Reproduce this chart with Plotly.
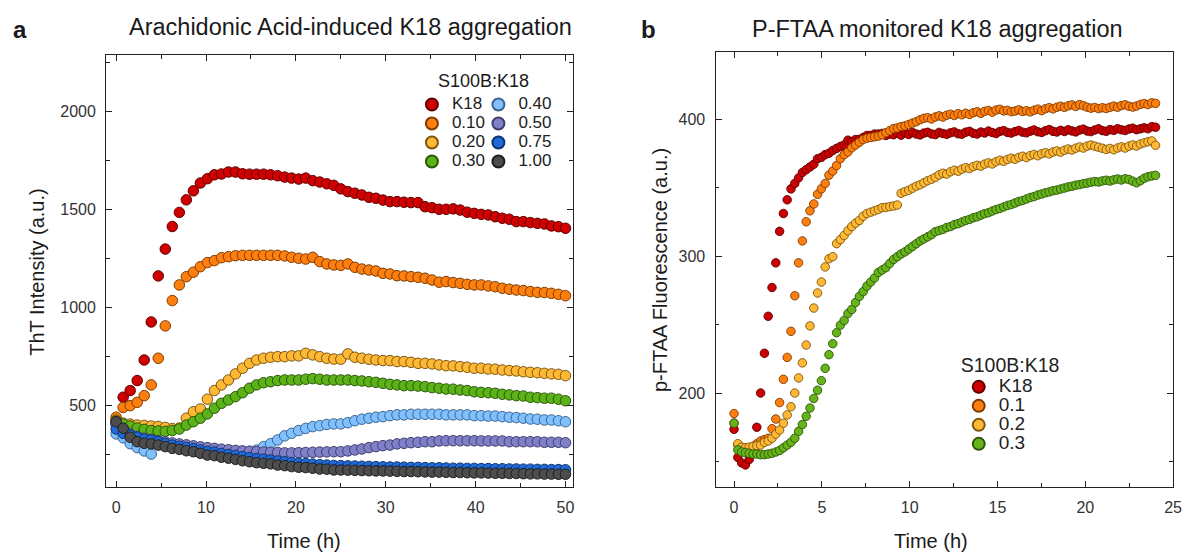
import numpy as np
import plotly.graph_objects as go

FONT = "Liberation Sans, Arial, sans-serif"
OFF = 8                      # default page margin of the html body
W, H = 1195 - OFF, 554 - OFF

# ---------------- Panel a data (ThT, 0-50 h) ----------------
A_T_END = 50.0
A_LABELS = ["K18", "0.10", "0.20", "0.30", "0.40", "0.50", "0.75", "1.00"]
A_K18 = [410, 542, 576, 627, 732, 926, 1161, 1298, 1413, 1485, 1549, 1595, 1635, 1657, 1677, 1681,
         1691, 1691, 1682, 1680, 1680, 1680, 1677, 1672, 1665, 1660, 1655, 1660, 1647, 1640, 1631, 1623,
         1605, 1591, 1583, 1574, 1562, 1557, 1548, 1540, 1540, 1537, 1535, 1535, 1514, 1509, 1501, 1501,
         1503, 1497, 1486, 1480, 1475, 1472, 1463, 1455, 1450, 1438, 1438, 1433, 1429, 1426, 1416, 1412, 1404]
A_010 = [440, 490, 499, 516, 550, 605, 741, 906, 1035, 1115, 1157, 1180, 1208, 1229, 1239, 1254,
         1259, 1264, 1266, 1266, 1266, 1266, 1266, 1266, 1263, 1256, 1251, 1247, 1256, 1234, 1222, 1217,
         1215, 1222, 1205, 1196, 1191, 1186, 1174, 1171, 1162, 1161, 1157, 1154, 1149, 1140, 1129, 1132,
         1127, 1123, 1118, 1115, 1115, 1110, 1106, 1098, 1093, 1089, 1086, 1081, 1077, 1076, 1072, 1067, 1060]
A_020 = [425, 410, 405, 400, 398, 395, 393, 388, 382, 385, 435, 468, 482, 532, 576, 605,
         630, 661, 690, 715, 732, 741, 746, 749, 749, 753, 753, 766, 758, 749, 741, 737,
         736, 763, 746, 741, 736, 732, 729, 729, 724, 724, 720, 715, 715, 712, 707, 703,
         702, 698, 695, 690, 690, 686, 685, 681, 678, 676, 672, 669, 667, 664, 661, 659, 652]
A_030 = [420, 405, 395, 385, 378, 372, 370, 368, 372, 380, 400, 417, 435, 457, 486, 511,
         528, 545, 565, 588, 605, 616, 621, 627, 630, 630, 630, 634, 637, 634, 630, 630,
         630, 630, 627, 625, 621, 618, 613, 608, 605, 601, 601, 599, 596, 591, 588, 584,
         583, 579, 576, 570, 567, 565, 562, 557, 554, 550, 548, 542, 540, 537, 537, 532, 524]
A_040 = [355, 335, 305, 285, 268, 252, 300, 305, 300, 296, 292, 288, 284, 280, 277, 274,
         271, 268, 266, 266, 272, 290, 305, 324, 345, 358, 372, 383, 392, 397, 403, 406,
         406, 412, 422, 430, 435, 440, 443, 448, 452, 452, 455, 455, 455, 455, 455, 452,
         452, 452, 452, 448, 448, 446, 446, 443, 440, 438, 435, 431, 430, 426, 426, 422, 417]
A_050 = [400, 372, 355, 342, 333, 327, 321, 315, 309, 304, 299, 294, 289, 285, 281, 277,
         274, 271, 268, 266, 264, 262, 261, 260, 258, 258, 259, 260, 261, 262, 263, 264,
         264, 268, 273, 278, 285, 290, 295, 298, 304, 307, 310, 312, 315, 315, 319, 320,
         320, 320, 320, 320, 319, 319, 319, 319, 315, 315, 315, 315, 315, 312, 312, 312, 310]
A_075 = [380, 358, 349, 338, 328, 324, 315, 306, 298, 292, 286, 280, 273, 266, 262, 255,
         250, 245, 239, 234, 229, 226, 222, 217, 213, 209, 206, 204, 201, 198, 196, 194,
         193, 192, 191, 190, 189, 188, 187, 186, 186, 185, 184, 184, 183, 182, 182, 181,
         180, 180, 179, 179, 178, 178, 177, 177, 176, 176, 175, 175, 174, 174, 173, 173, 172]
A_100 = [417, 384, 338, 315, 307, 304, 298, 290, 281, 276, 269, 264, 256, 247, 244, 236,
         231, 225, 218, 213, 208, 205, 202, 196, 193, 188, 185, 183, 180, 176, 175, 171,
         171, 170, 169, 168, 167, 166, 166, 165, 164, 163, 163, 162, 161, 160, 160, 159,
         158, 158, 157, 156, 156, 155, 154, 154, 153, 153, 152, 151, 151, 150, 150, 149, 149]
A_SERIES = [A_K18, A_010, A_020, A_030, A_040, A_050, A_075, A_100]
A_FILL = ["#D00000", "#FF7F0E", "#FFB833", "#5CB318", "#80C0FF", "#8080C8", "#1F6AD8", "#4D4D4D"]
A_EDGE = ["#5E0000", "#7A3A00", "#7A5510", "#2B560A", "#3A6590", "#3E3E70", "#0E3370", "#1E1E1E"]

# ---------------- Panel b data (p-FTAA, 0-24 h) ----------------
B_T_END = 24.0
B_LABELS = ["K18", "0.1", "0.2", "0.3"]
B_K18 = [173.5, 153, 149, 147.5, 151.5, 160, 175, 200, 229, 256, 277, 295, 318, 331, 341, 349,
         353, 357, 361, 363, 365, 367, 371, 372, 374, 375, 377, 378.5, 380, 381, 384.5, 383.5,
         385, 385, 386.5, 388, 388, 389, 389, 389.5, 388, 389,
         388.5, 389.6, 388.2, 389.9, 388.7, 390.1, 389.0, 388.4, 389.7, 390.3, 389.1, 388.6, 390.2, 389.4,
         388.8, 389.9, 390.6, 389.2, 388.9, 390.4, 391.0, 389.6, 389.0, 390.5, 389.8, 391.2, 390.1, 389.4,
         390.9, 391.5, 390.2, 389.7, 390.8, 391.6, 390.4, 389.9, 391.1, 392.0, 390.7, 390.2, 391.4, 392.3,
         391.0, 390.5, 391.7, 390.9, 392.1, 391.3, 390.6, 391.9, 392.6, 391.2, 390.8, 392.0, 392.8, 391.5,
         391.0, 392.3, 391.7, 392.9, 392.1, 391.6, 392.7, 393.3, 392.2, 392.8, 393.6, 392.9, 394.4, 394.0]
B_01 = [185, 162, 160, 160, 160, 161, 163, 165, 166, 167, 174, 181, 193, 210, 226, 245,
        271, 295, 311, 325, 333, 338, 345, 349, 353, 359, 362, 366, 371, 374, 376, 379,
        381, 383, 385, 386, 386.5, 387, 387.5, 388.5, 390, 391.5, 393, 393.5, 394.5, 395, 396, 397,
        398, 399.5, 400.5, 401, 400,
        401.5, 402.3, 401.4, 402.8, 403.5, 402.6, 403.9, 403.1, 404.2, 403.3, 404.6, 405.3, 404.1, 405.6,
        406.2, 405.0, 406.5, 407.1, 405.9, 406.3, 405.4, 405.8, 406.7, 405.5, 406.0, 405.2, 406.4, 407.2,
        406.1, 407.5, 408.3, 407.4, 408.6, 409.3, 408.5, 409.6, 410.3, 409.2, 410.5, 409.7, 408.6, 407.9,
        408.4, 407.6, 408.2, 407.7, 408.5, 409.4, 408.6, 409.8, 410.4, 409.3, 408.7, 409.5, 410.6, 411.3,
        410.5, 411.8, 411.4]
B_02 = [178, 163, 160.5, 160, 160.5, 161, 161.5, 162, 164, 165, 167, 170, 173, 178, 184, 190,
        200, 211, 222, 235, 249, 262, 273, 281, 292, 298, 299.5, 309, 312, 315, 318.5, 321.5,
        324, 326, 329, 331, 332, 333, 334, 335.3, 335.5, 336, 336.5, 337.2, 345.8, 347, 348, 349.5,
        351, 352, 353.5, 355, 356, 357.4,
        359.2, 360.4, 359.8, 361.5, 362.6, 361.9, 363.4, 364.5, 363.8, 365.3, 366.2, 365.6, 367.1, 368.0,
        367.2, 368.8, 369.9, 369.1, 370.5, 371.4, 370.6, 372.0, 372.8, 371.9, 373.3, 374.1, 373.2, 374.6,
        375.4, 374.5, 375.9, 376.7, 375.8, 377.2, 378.1, 377.3, 378.7, 379.6, 378.8, 380.2, 381.0, 380.1,
        379.4, 378.6, 377.8, 378.5, 377.6, 378.9, 379.7, 378.8, 380.2, 381.1, 380.3, 381.7, 382.6, 383.4,
        384.0, 380.8]
B_03 = [178, 158.5, 157, 156.5, 156, 155.5, 155.5, 155, 155, 155.5, 156, 157, 158, 160, 162, 164,
        167, 172, 177, 183, 189, 196, 202, 209, 218, 228, 236, 244, 249.5, 253, 258, 261,
        266, 270.5, 274, 278, 281, 284, 288, 289.8, 291.5, 294.5, 297.5, 299.5, 301.5, 303, 305, 307,
        309, 311, 312.5, 314, 315.5, 317.7,
        318.6, 319.4, 320.8, 321.5, 322.9, 323.6, 324.8, 325.9, 326.7, 327.9, 328.6, 329.8, 330.9, 331.6,
        332.8, 333.9, 334.7, 335.8, 336.9, 337.6, 338.7, 339.8, 340.5, 341.6, 342.7, 343.4, 344.5, 345.2,
        346.1, 346.8, 347.6, 348.1, 348.9, 349.6, 350.4, 350.9, 351.7, 352.1, 352.8, 353.2, 353.9, 354.3,
        354.0, 354.8, 355.3, 354.7, 355.6, 356.2, 355.5, 356.4, 355.8, 354.6, 353.4, 354.9, 356.7, 357.8,
        358.4, 358.9]
B_SERIES = [B_K18, B_01, B_02, B_03]
B_FILL = ["#CC0000", "#FF7F0E", "#FFB833", "#66B31A"]
B_EDGE = ["#5E0000", "#7A3A00", "#7A5510", "#2B560A"]

A_XTICK, A_XMINOR, A_YTICK, A_YMINOR = 10, 5, 500, 250
B_XTICK, B_XMINOR, B_YTICK, B_YMINOR = 5, 2.5, 100, 50


def px(x):
    return (x - OFF) / W


def py(y):
    return 1 - (y - OFF) / H


def big(name, size):
    return '<span style="font-size:%dpx">%s</span>' % (size, name)


fig = go.Figure()

for i, (lab, vals) in enumerate(zip(A_LABELS, A_SERIES)):
    t = np.linspace(0, A_T_END, len(vals))
    fig.add_trace(go.Scatter(
        x=t, y=vals, mode="markers", name=big(lab, 17), xaxis="x", yaxis="y",
        legend="legend" if i < 4 else "legend2",
        marker=dict(size=10.5, color=A_FILL[i], line=dict(color=A_EDGE[i], width=1))))

for i, (lab, vals) in enumerate(zip(B_LABELS, B_SERIES)):
    t = np.linspace(0, B_T_END, len(vals))
    fig.add_trace(go.Scatter(
        x=t, y=vals, mode="markers", name=big(lab, 19), xaxis="x2", yaxis="y2", legend="legend3",
        marker=dict(size=8.5, color=B_FILL[i], line=dict(color=B_EDGE[i], width=0.9))))

AX = dict(showline=True, linecolor="#222", linewidth=1.3, mirror="allticks", ticks="inside",
          ticklen=6, tickwidth=1.3, tickcolor="#222", showgrid=False, zeroline=False,
          tickfont=dict(family=FONT, size=16, color="#333"), ticklabelstandoff=6)


def minor(d):
    return dict(dtick=d, ticks="inside", ticklen=3.5, tickwidth=1.2, tickcolor="#222", showgrid=False)


LEG = dict(xanchor="left", yanchor="top", bgcolor="rgba(0,0,0,0)", itemsizing="constant",
           tracegroupgap=0, traceorder="normal", font=dict(family=FONT, size=12, color="#222"))

fig.update_layout(
    width=W, height=H, autosize=False, margin=dict(l=0, r=0, t=0, b=0),
    paper_bgcolor="white", plot_bgcolor="white",
    font=dict(family=FONT, color="#1a1a1a"),
    xaxis=dict(AX, domain=[px(107), px(577)], range=[-1.1, 50.8], tick0=0, dtick=A_XTICK,
               minor=minor(A_XMINOR), anchor="y"),
    yaxis=dict(AX, domain=[py(487), py(55)], range=[84, 2288], tick0=0, dtick=A_YTICK,
               minor=minor(A_YMINOR), anchor="x"),
    xaxis2=dict(AX, domain=[px(721), px(1182)], range=[-1.05, 25.0], tick0=0, dtick=B_XTICK,
                minor=minor(B_XMINOR), anchor="y2"),
    yaxis2=dict(AX, domain=[py(487), py(52)], range=[131.4, 448.9], tick0=0, dtick=B_YTICK,
                minor=minor(B_YMINOR), anchor="x2"),
    legend=dict(LEG, x=px(415), y=py(90)),
    legend2=dict(LEG, x=px(482), y=py(90)),
    legend3=dict(LEG, x=px(966), y=py(347),
                 title=dict(text="S100B:K18", font=dict(family=FONT, size=19.5, color="#222"))),
    showlegend=True,
)

ann = [
    dict(text="<b>a</b>", x=20, y=30, size=24),
    dict(text="<b>b</b>", x=653, y=30, size=24),
    dict(text="Arachidonic Acid-induced K18 aggregation", x=353, y=27, size=23.5),
    dict(text="P-FTAA monitored K18 aggregation", x=945, y=29, size=23.5),
    dict(text="Time (h)", x=306, y=541, size=20),
    dict(text="Time (h)", x=938, y=541, size=20),
    dict(text="S100B:K18", x=487, y=81, size=18),
]
for a in ann:
    fig.add_annotation(text=a["text"], x=px(a["x"]), y=py(a["y"]), xref="paper", yref="paper",
                       showarrow=False, xanchor="center", yanchor="middle",
                       font=dict(family=FONT, size=a["size"], color="#1a1a1a"))
for txt, xx, yy in [("ThT Intensity (a.u.)", 37, 272), ("p-FTAA Fluorescence (a.u.)", 665, 270)]:
    fig.add_annotation(text=txt, x=px(xx), y=py(yy), xref="paper", yref="paper", showarrow=False,
                       textangle=-90, xanchor="center", yanchor="middle",
                       font=dict(family=FONT, size=20, color="#1a1a1a"))

fig.write_html("out.html")
